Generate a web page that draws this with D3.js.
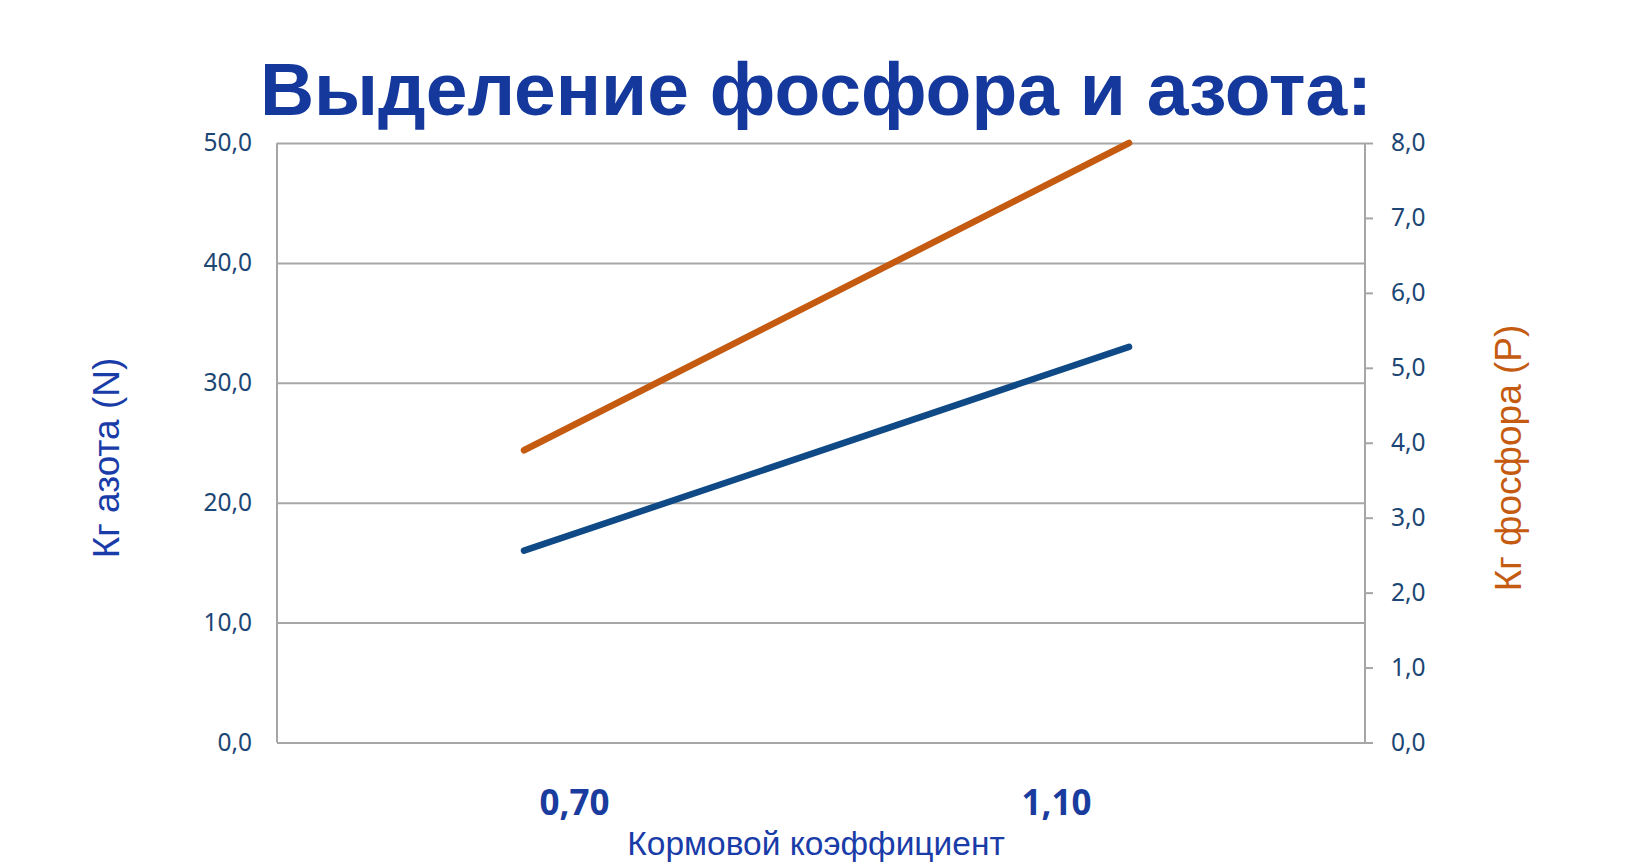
<!DOCTYPE html>
<html>
<head>
<meta charset="utf-8">
<script src="https://cdn.jsdelivr.net/npm/d3@7"></script>
<style>
  html, body { margin: 0; padding: 0; background: #fff; }
  svg { display: block; }
</style>
</head>
<body>
<svg id="chart" width="1638" height="863"></svg>
<script>
// ---- data ----
const title = "Выделение фосфора и азота:";
const categories = ["0,70", "1,10"];
const feedRatio = [0.70, 1.10];
const nitrogen = [16.0, 33.0];   // kg N, left axis
const phosphorus = [3.9, 8.0];   // kg P, right axis
const leftTicks = [0, 10, 20, 30, 40, 50];
const rightTicks = [0, 1, 2, 3, 4, 5, 6, 7, 8];
const leftTitle = "Кг азота (N)";
const rightTitle = "Кг фосфора (P)";
const xTitle = "Кормовой коэффициент";

// ---- layout ----
const plot = { left: 277, right: 1365, top: 143, bottom: 742.5 };
const svg = d3.select("#chart");
const fmt1 = d => d3.format(".1f")(d).replace(".", ",");

const x = d3.scaleLinear().domain([0.5367, 1.256]).range([plot.left, plot.right]);
const xCat = d3.scalePoint().domain(categories).range([plot.left - 6, plot.right - 6]).padding(0.629);
const yL = d3.scaleLinear().domain([0, 50]).range([plot.bottom, plot.top]);
const yR = d3.scaleLinear().domain([0, 8]).range([plot.bottom, plot.top]);

const gridColor = "#a6a6a6";
const tickColor = "#1c4674";
const blue = "#0f4a86";
const orange = "#c55a11";
const labelBlue = "#1a3c9e";

// title
svg.append("text")
  .attr("x", 816).attr("y", 115)
  .attr("text-anchor", "middle")
  .attr("font-family", "'Liberation Sans', Arial, sans-serif")
  .attr("font-weight", "bold")
  .attr("font-size", 75)
  .attr("fill", "#14389b")
  .text(title);

// gridlines + left axis labels
const gl = svg.append("g")
  .attr("transform", `translate(${plot.left},0)`)
  .call(d3.axisLeft(yL).tickValues(leftTicks).tickSize(-(plot.right - plot.left)).tickFormat(fmt1).tickPadding(25));
gl.select(".domain").remove();
gl.selectAll(".tick line").attr("stroke", gridColor).attr("stroke-width", 2);
gl.selectAll(".tick text")
  .attr("font-family", "'Noto Sans', 'Open Sans', sans-serif")
  .attr("font-size", 24.5)
  .attr("fill", tickColor);

// left vertical frame line
svg.append("line")
  .attr("x1", plot.left).attr("x2", plot.left)
  .attr("y1", yL(50)).attr("y2", yL(0))
  .attr("stroke", gridColor).attr("stroke-width", 2);

// right axis
const gr = svg.append("g")
  .attr("transform", `translate(${plot.right},0)`)
  .call(d3.axisRight(yR).tickValues(rightTicks).tickSize(8).tickFormat(fmt1).tickPadding(18));
gr.select(".domain").attr("stroke", gridColor).attr("stroke-width", 2).attr("d", `M0,${yR(8)}V${yR(0)}`);
gr.selectAll(".tick line").attr("stroke", gridColor).attr("stroke-width", 2);
gr.selectAll(".tick text")
  .attr("font-family", "'Noto Sans', 'Open Sans', sans-serif")
  .attr("font-size", 24.5)
  .attr("fill", tickColor);

// x category labels
const gx = svg.append("g")
  .attr("transform", `translate(0,${plot.bottom})`)
  .call(d3.axisBottom(xCat).tickSize(0).tickPadding(48));
gx.select(".domain").remove();
gx.selectAll(".tick text")
  .attr("font-family", "'Noto Sans', 'Open Sans', sans-serif")
  .attr("font-weight", "bold")
  .attr("font-size", 35)
  .attr("fill", labelBlue);

// lines
const nPts = feedRatio.map((f, i) => [f, nitrogen[i]]);
const pPts = feedRatio.map((f, i) => [f, phosphorus[i]]);
svg.append("path")
  .attr("d", d3.line().x(d => x(d[0])).y(d => yL(d[1]))(nPts))
  .attr("fill", "none").attr("stroke", blue).attr("stroke-width", 6.5).attr("stroke-linecap", "round");
svg.append("path")
  .attr("d", d3.line().x(d => x(d[0])).y(d => yR(d[1]))(pPts))
  .attr("fill", "none").attr("stroke", orange).attr("stroke-width", 6.5).attr("stroke-linecap", "round");

// axis titles
svg.append("text")
  .attr("transform", "translate(119,458) rotate(-90)")
  .attr("text-anchor", "middle")
  .attr("font-family", "'Liberation Sans', Arial, sans-serif")
  .attr("font-size", 37)
  .attr("fill", "#1a3ca8")
  .text(leftTitle);
svg.append("text")
  .attr("transform", "translate(1521,458) rotate(-90)")
  .attr("text-anchor", "middle")
  .attr("font-family", "'Liberation Sans', Arial, sans-serif")
  .attr("font-size", 37)
  .attr("fill", orange)
  .text(rightTitle);
svg.append("text")
  .attr("x", 816).attr("y", 855)
  .attr("text-anchor", "middle")
  .attr("font-family", "'Liberation Sans', Arial, sans-serif")
  .attr("font-size", 33.5)
  .attr("fill", "#1a3ca8")
  .text(xTitle);
</script>
</body>
</html>
